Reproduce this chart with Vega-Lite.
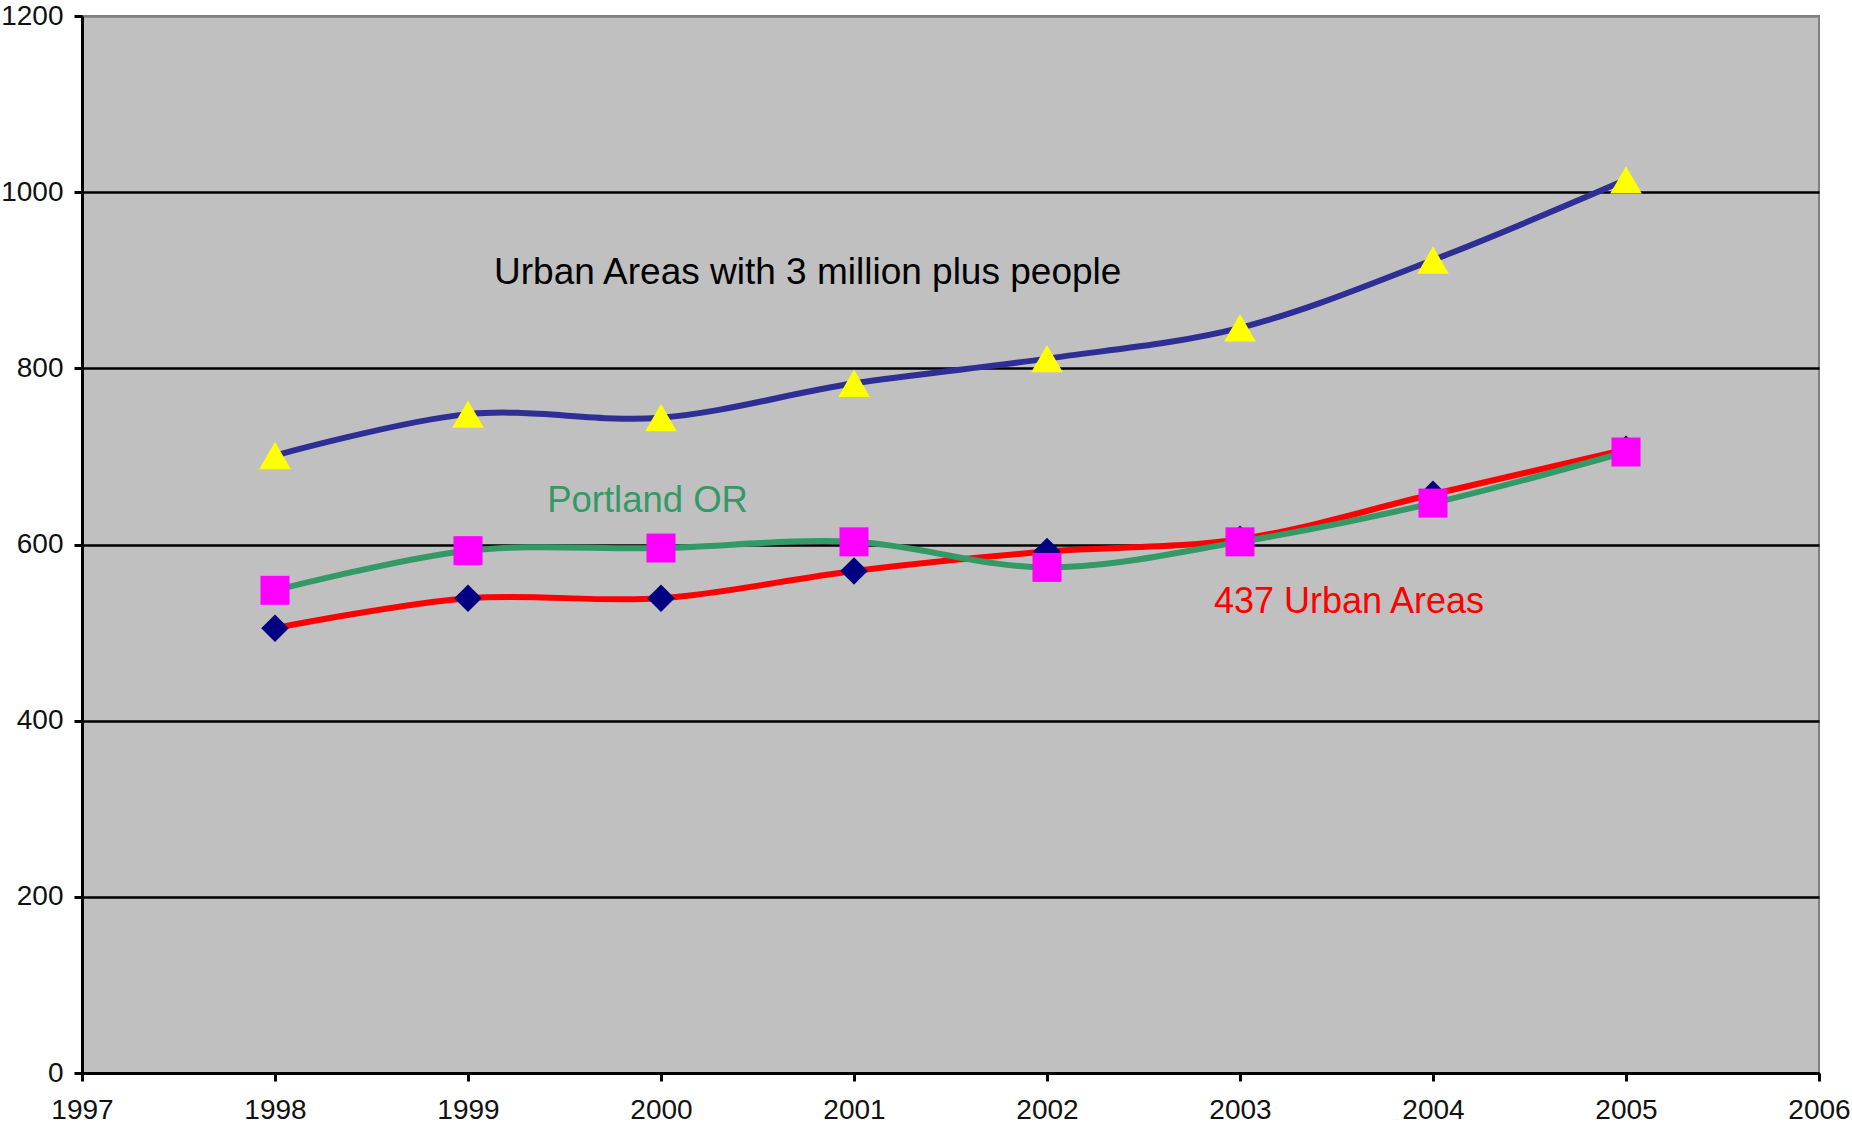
{
  "$schema": "https://vega.github.io/schema/vega-lite/v6.json",
  "width": 1737,
  "height": 1057,
  "autosize": {"type": "none"},
  "padding": {"left": 82, "top": 16, "right": 33, "bottom": 53},
  "background": "white",
  "config": {
    "font": "Liberation Sans",
    "view": {"fill": "#C0C0C0", "stroke": "#808080", "strokeWidth": 2}
  },
  "datasets": {
    "series": [
      {"series": "437 Urban Areas", "year": 1998, "value": 505},
      {"series": "437 Urban Areas", "year": 1999, "value": 539},
      {"series": "437 Urban Areas", "year": 2000, "value": 539},
      {"series": "437 Urban Areas", "year": 2001, "value": 570},
      {"series": "437 Urban Areas", "year": 2002, "value": 592},
      {"series": "437 Urban Areas", "year": 2003, "value": 606},
      {"series": "437 Urban Areas", "year": 2004, "value": 657},
      {"series": "437 Urban Areas", "year": 2005, "value": 708},
      {"series": "Portland OR", "year": 1998, "value": 548},
      {"series": "Portland OR", "year": 1999, "value": 593},
      {"series": "Portland OR", "year": 2000, "value": 596},
      {"series": "Portland OR", "year": 2001, "value": 603},
      {"series": "Portland OR", "year": 2002, "value": 574},
      {"series": "Portland OR", "year": 2003, "value": 603},
      {"series": "Portland OR", "year": 2004, "value": 647},
      {"series": "Portland OR", "year": 2005, "value": 705},
      {"series": "3 million plus", "year": 1998, "value": 701},
      {"series": "3 million plus", "year": 1999, "value": 748},
      {"series": "3 million plus", "year": 2000, "value": 744},
      {"series": "3 million plus", "year": 2001, "value": 783},
      {"series": "3 million plus", "year": 2002, "value": 811},
      {"series": "3 million plus", "year": 2003, "value": 846},
      {"series": "3 million plus", "year": 2004, "value": 923},
      {"series": "3 million plus", "year": 2005, "value": 1014}
    ],
    "labels": [
      {"group": "metro", "label": "Urban Areas with 3 million plus people", "year": 1999.135, "value": 896},
      {"group": "portland", "label": "Portland OR", "year": 1999.41, "value": 637},
      {"group": "all", "label": "437 Urban Areas", "year": 2002.865, "value": 522}
    ]
  },
  "encoding": {
    "x": {
      "field": "year",
      "type": "quantitative",
      "scale": {"domain": [1997, 2006], "nice": false, "zero": false},
      "axis": {
        "title": null,
        "values": [1997, 1998, 1999, 2000, 2001, 2002, 2003, 2004, 2005, 2006],
        "format": "d",
        "grid": false,
        "domainColor": "black",
        "domainWidth": 3,
        "tickColor": "black",
        "tickWidth": 3,
        "tickSize": 8,
        "labelFontSize": 28,
        "labelColor": "#111111",
        "labelPadding": 15,
        "labelFlush": false,
        "labelOverlap": false
      }
    },
    "y": {
      "field": "value",
      "type": "quantitative",
      "scale": {"domain": [0, 1200], "nice": false},
      "axis": {
        "title": null,
        "values": [0, 200, 400, 600, 800, 1000, 1200],
        "format": "d",
        "grid": true,
        "gridColor": {"condition": {"test": "datum.value === 1200", "value": "#808080"}, "value": "black"},
        "gridWidth": 2.5,
        "domainColor": "black",
        "domainWidth": 3,
        "tickColor": "black",
        "tickWidth": 3,
        "tickSize": 8,
        "labelFontSize": 28,
        "labelColor": "#111111",
        "labelPadding": 11,
        "labelOverlap": false
      }
    }
  },
  "layer": [
    {
      "data": {"name": "series"},
      "transform": [{"filter": "datum.series === '437 Urban Areas'"}],
      "mark": {"type": "line", "color": "#FF0000", "strokeWidth": 6, "interpolate": "catmull-rom"}
    },
    {
      "data": {"name": "series"},
      "transform": [{"filter": "datum.series === '437 Urban Areas'"}],
      "mark": {"type": "point", "shape": "diamond", "filled": true, "color": "#000080", "opacity": 1, "size": 760, "strokeWidth": 0}
    },
    {
      "data": {"name": "series"},
      "transform": [{"filter": "datum.series === 'Portland OR'"}],
      "mark": {"type": "line", "color": "#339966", "strokeWidth": 6, "interpolate": "catmull-rom"}
    },
    {
      "data": {"name": "series"},
      "transform": [{"filter": "datum.series === 'Portland OR'"}],
      "mark": {"type": "point", "shape": "square", "filled": true, "color": "#FF00FF", "opacity": 1, "size": 841, "strokeWidth": 0}
    },
    {
      "data": {"name": "series"},
      "transform": [{"filter": "datum.series === '3 million plus'"}],
      "mark": {"type": "line", "color": "#2E2E94", "strokeWidth": 6, "interpolate": "catmull-rom"}
    },
    {
      "data": {"name": "series"},
      "transform": [{"filter": "datum.series === '3 million plus'"}],
      "mark": {"type": "point", "shape": "triangle-up", "filled": true, "color": "#FFFF00", "opacity": 1, "size": 1000, "strokeWidth": 0}
    },
    {
      "data": {"name": "labels"},
      "transform": [{"filter": "datum.group === 'metro'"}],
      "mark": {"type": "text", "align": "left", "baseline": "alphabetic", "fontSize": 37, "color": "#000000"},
      "encoding": {"text": {"field": "label"}}
    },
    {
      "data": {"name": "labels"},
      "transform": [{"filter": "datum.group === 'portland'"}],
      "mark": {"type": "text", "align": "left", "baseline": "alphabetic", "fontSize": 36.5, "color": "#339966"},
      "encoding": {"text": {"field": "label"}}
    },
    {
      "data": {"name": "labels"},
      "transform": [{"filter": "datum.group === 'all'"}],
      "mark": {"type": "text", "align": "left", "baseline": "alphabetic", "fontSize": 36, "color": "#FF0000"},
      "encoding": {"text": {"field": "label"}}
    }
  ]
}
